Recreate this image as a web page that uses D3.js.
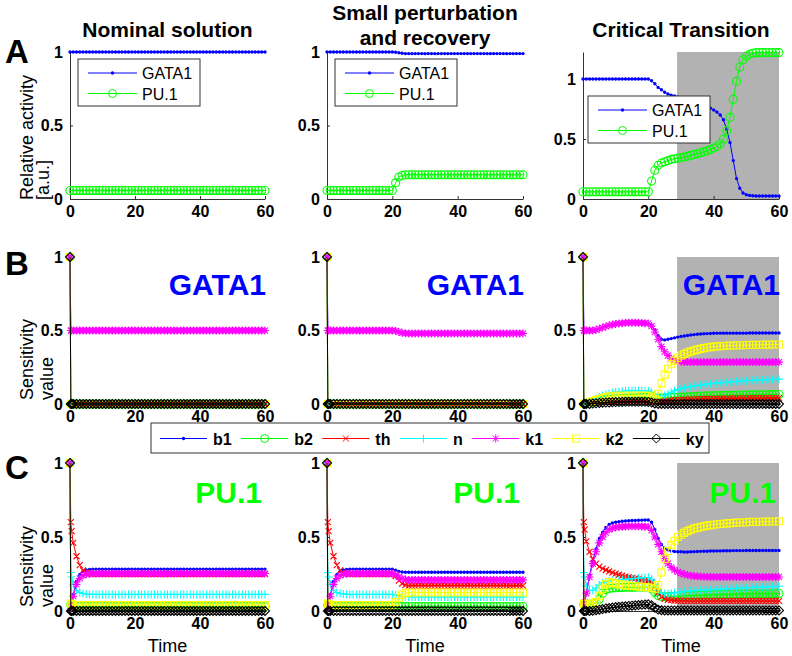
<!DOCTYPE html>
<html><head><meta charset="utf-8">
<script src="https://cdn.jsdelivr.net/npm/d3@7"></script>
<style>body{margin:0;background:#fff}svg text{font-family:"Liberation Sans",Arial,Helvetica,sans-serif}</style>
</head><body><svg id="c" width="792" height="656"></svg>
<script>
// ---------------- DATA ----------------
const panelTitles = [["Nominal solution"], ["Small perturbation", "and recovery"], ["Critical Transition"]];
const rowLetters = ["A", "B", "C"];
const xTicks = [0, 20, 40, 60];
const yTicks = [0, 0.5, 1];
const transitionStart = 28.8;
const activityNames = ["GATA1", "PU.1"];
const paramNames = ["b1", "b2", "th", "n", "k1", "k2", "ky"];

// time grid of row A (relative activity)
const timeA = [0,1,2,3,4,5,6,7,8,9,10,11,12,13,14,15,16,17,18,19,20,21,22,23,24,25,26,27,28,29,30,
  31,32,33,34,35,36,37,38,39,40,41,42,43,44,45,46,47,48,49,50,51,52,53,54,55,56,57,58,59,60];
// time grid of rows B and C (sensitivities)
const timeS = [0,0.25,0.5,1,2,3,4,5,6,7,8,9,10,11,12,13,14,15,16,17,18,19,20,21,22,23,24,25,26,27,28,29,30,
  31,32,33,34,35,36,37,38,39,40,41,42,43,44,45,46,47,48,49,50,51,52,53,54,55,56,57,58,59,60];

// Row A
const gataNominal = [1,1,1,1,1,1,1,1,1,1,1, 1,1,1,1,1,1,1,1,1,1, 1,1,1,1,1,1,1,1,1,1, 1,1,1,1,1,1,1,1,1,1, 1,1,1,1,1,1,1,1,1,1, 1,1,1,1,1,1,1,1,1,1];
const pu1Nominal = [0.058,0.058,0.058,0.058,0.058,0.058,0.058,0.058,0.058,0.058,0.058,
  0.058,0.058,0.058,0.058,0.058,0.058,0.058,0.058,0.058,0.058,
  0.058,0.058,0.058,0.058,0.058,0.058,0.058,0.058,0.058,0.058,
  0.058,0.058,0.058,0.058,0.058,0.058,0.058,0.058,0.058,0.058,
  0.058,0.058,0.058,0.058,0.058,0.058,0.058,0.058,0.058,0.058,
  0.058,0.058,0.058,0.058,0.058,0.058,0.058,0.058,0.058,0.058];
const gataSmall = [1,1,1,1,1,1,1,1,1,1,1, 1,1,1,1,1,1,1,1,1,1,
  0.998,0.995,0.991,0.989,0.989,0.989,0.989,0.989,0.989,0.989,
  0.989,0.989,0.989,0.989,0.989,0.989,0.989,0.989,0.989,0.989,
  0.989,0.989,0.989,0.989,0.989,0.989,0.989,0.989,0.989,0.989,
  0.989,0.989,0.989,0.989,0.989,0.989,0.989,0.989,0.989,0.989];
const pu1Small = [0.058,0.058,0.058,0.058,0.058,0.058,0.058,0.058,0.058,0.058,0.058,
  0.058,0.058,0.058,0.058,0.058,0.058,0.058,0.058,0.058,0.058,
  0.11,0.15,0.16,0.165,0.165,0.165,0.165,0.165,0.165,0.165,
  0.165,0.165,0.165,0.165,0.165,0.165,0.165,0.165,0.165,0.165,
  0.165,0.165,0.165,0.165,0.165,0.165,0.165,0.165,0.165,0.165,
  0.165,0.165,0.165,0.165,0.165,0.165,0.165,0.165,0.165,0.165];
const gataCritical = [1,1,1,1,1,1,1,1,1,1,1, 1,1,1,1,1,1,1,1,1,1,
  0.985,0.96,0.93,0.91,0.89,0.875,0.865,0.858,0.85,0.845,
  0.838,0.83,0.822,0.814,0.805,0.795,0.783,0.77,0.757,0.742,
  0.725,0.7,0.66,0.58,0.47,0.32,0.17,0.09,0.05,0.035,
  0.03,0.027,0.025,0.025,0.025,0.025,0.025,0.025,0.025,0.025];
const pu1Critical = [0.06,0.06,0.06,0.06,0.06,0.06,0.06,0.06,0.06,0.06,0.06,
  0.06,0.06,0.06,0.06,0.06,0.06,0.06,0.06,0.06,0.06,
  0.15,0.24,0.28,0.3,0.31,0.32,0.33,0.335,0.34,0.345,
  0.35,0.357,0.364,0.37,0.377,0.385,0.393,0.402,0.412,0.425,
  0.44,0.46,0.5,0.57,0.68,0.83,0.98,1.1,1.16,1.19,
  1.205,1.215,1.22,1.22,1.22,1.22,1.22,1.22,1.22,1.22];

// Row B: sensitivities of GATA1
const gataNomHalf = [1,0.5,0.5,
  0.5,0.5,0.5,0.5,0.5,0.5,0.5,0.5,0.5,0.5, 0.5,0.5,0.5,0.5,0.5,0.5,0.5,0.5,0.5,0.5,
  0.5,0.5,0.5,0.5,0.5,0.5,0.5,0.5,0.5,0.5, 0.5,0.5,0.5,0.5,0.5,0.5,0.5,0.5,0.5,0.5,
  0.5,0.5,0.5,0.5,0.5,0.5,0.5,0.5,0.5,0.5, 0.5,0.5,0.5,0.5,0.5,0.5,0.5,0.5,0.5,0.5];
const sensZero = [1,0,0,
  0,0,0,0,0,0,0,0,0,0, 0,0,0,0,0,0,0,0,0,0, 0,0,0,0,0,0,0,0,0,0,
  0,0,0,0,0,0,0,0,0,0, 0,0,0,0,0,0,0,0,0,0, 0,0,0,0,0,0,0,0,0,0];
const gataSmallHalf = [1,0.5,0.5,
  0.5,0.5,0.5,0.5,0.5,0.5,0.5,0.5,0.5,0.5, 0.5,0.5,0.5,0.5,0.5,0.5,0.5,0.5,0.5,0.5,
  0.497,0.49,0.484,0.481,0.48,0.48,0.48,0.48,0.48,0.48,
  0.48,0.48,0.48,0.48,0.48,0.48,0.48,0.48,0.48,0.48,
  0.48,0.48,0.48,0.48,0.48,0.48,0.48,0.48,0.48,0.48,
  0.48,0.48,0.48,0.48,0.48,0.48,0.48,0.48,0.48,0.48];
const gataCrit_b1 = [1,0.5,0.5,
  0.5,0.5,0.5,0.505,0.512,0.52,0.528,0.535,0.54,0.545,
  0.548,0.55,0.552,0.553,0.553,0.553,0.552,0.551,0.55,0.548,
  0.535,0.505,0.465,0.44,0.436,0.44,0.445,0.45,0.455,0.46,
  0.463,0.466,0.469,0.472,0.474,0.476,0.478,0.479,0.48,0.481,
  0.482,0.482,0.482,0.482,0.482,0.482,0.482,0.482,0.482,0.482,
  0.483,0.483,0.483,0.483,0.483,0.483,0.483,0.483,0.483,0.483];
const gataCrit_b2 = [1,0,0,
  0.003,0.007,0.011,0.015,0.019,0.023,0.027,0.03,0.033,0.035,
  0.037,0.039,0.04,0.041,0.042,0.043,0.044,0.044,0.045,0.045,
  0.043,0.04,0.04,0.041,0.042,0.043,0.044,0.045,0.046,0.047,
  0.048,0.049,0.05,0.051,0.052,0.053,0.054,0.055,0.055,0.056,
  0.057,0.057,0.058,0.058,0.059,0.059,0.06,0.06,0.061,0.061,
  0.062,0.062,0.062,0.063,0.063,0.063,0.064,0.064,0.064,0.065];
const gataCrit_th = [1,0,0,
  0.003,0.006,0.009,0.012,0.014,0.016,0.018,0.019,0.02,0.021,
  0.022,0.022,0.023,0.023,0.023,0.023,0.023,0.023,0.023,0.022,
  0.02,0.016,0.015,0.017,0.02,0.022,0.024,0.026,0.027,0.028,
  0.029,0.03,0.031,0.032,0.033,0.033,0.034,0.034,0.035,0.035,
  0.036,0.036,0.037,0.037,0.038,0.038,0.038,0.039,0.039,0.039,
  0.04,0.04,0.04,0.04,0.04,0.04,0.04,0.04,0.04,0.04];
const gataCrit_n = [1,0,0,
  0.008,0.018,0.028,0.038,0.048,0.057,0.065,0.072,0.077,0.081,
  0.084,0.086,0.088,0.089,0.09,0.09,0.09,0.09,0.09,0.089,
  0.08,0.065,0.057,0.056,0.06,0.068,0.08,0.09,0.098,0.105,
  0.11,0.115,0.119,0.123,0.126,0.129,0.132,0.135,0.138,0.14,
  0.142,0.144,0.146,0.148,0.15,0.152,0.154,0.155,0.157,0.158,
  0.16,0.161,0.162,0.163,0.164,0.165,0.166,0.167,0.168,0.169];
const gataCrit_k1 = [1,0.5,0.5,
  0.5,0.5,0.5,0.505,0.512,0.52,0.528,0.535,0.54,0.545,
  0.548,0.55,0.552,0.553,0.553,0.553,0.552,0.551,0.55,0.548,
  0.53,0.49,0.44,0.39,0.355,0.33,0.31,0.298,0.292,0.288,
  0.286,0.285,0.285,0.285,0.285,0.285,0.285,0.285,0.285,0.285,
  0.285,0.285,0.285,0.285,0.285,0.285,0.285,0.285,0.285,0.285,
  0.285,0.285,0.285,0.285,0.285,0.285,0.285,0.285,0.285,0.285];
const gataCrit_k2 = [1,0,0,
  0.005,0.012,0.02,0.027,0.034,0.04,0.045,0.05,0.053,0.056,
  0.057,0.058,0.058,0.058,0.058,0.058,0.058,0.057,0.057,0.055,
  0.045,0.035,0.07,0.14,0.2,0.24,0.27,0.295,0.315,0.33,
  0.34,0.35,0.357,0.364,0.37,0.375,0.38,0.384,0.387,0.39,
  0.392,0.394,0.395,0.396,0.397,0.398,0.399,0.4,0.4,0.401,
  0.401,0.402,0.402,0.403,0.403,0.404,0.404,0.405,0.405,0.405];
const gataCrit_ky = [1,0,0,
  0,0.001,0.003,0.005,0.007,0.009,0.01,0.011,0.012,0.013,
  0.014,0.014,0.015,0.015,0.015,0.015,0.015,0.015,0.015,0.014,
  0.01,0.004,0.001,0,0,0,0,0,0,0,
  0,0,0,0,0,0,0,0,0,0, 0,0,0,0,0,0,0,0,0,0, 0,0,0,0,0,0,0,0,0,0];

// Row C: sensitivities of PU.1
const puNom_b1 = [1,0.02,0.04,
  0.11,0.2,0.245,0.268,0.278,0.281,0.282,0.282,0.282,0.282,
  0.282,0.282,0.282,0.282,0.282,0.282,0.282,0.282,0.282,0.282,
  0.282,0.282,0.282,0.282,0.282,0.282,0.282,0.282,0.282,0.282,
  0.282,0.282,0.282,0.282,0.282,0.282,0.282,0.282,0.282,0.282,
  0.282,0.282,0.282,0.282,0.282,0.282,0.282,0.282,0.282,0.282,
  0.282,0.282,0.282,0.282,0.282,0.282,0.282,0.282,0.282,0.282];
const puNom_b2 = [1,0.04,0.035,
  0.033,0.03,0.03,0.03,0.03,0.03,0.03,0.03,0.03,0.03,
  0.03,0.03,0.03,0.03,0.03,0.03,0.03,0.03,0.03,0.03,
  0.03,0.03,0.03,0.03,0.03,0.03,0.03,0.03,0.03,0.03,
  0.03,0.03,0.03,0.03,0.03,0.03,0.03,0.03,0.03,0.03,
  0.03,0.03,0.03,0.03,0.03,0.03,0.03,0.03,0.03,0.03,
  0.03,0.03,0.03,0.03,0.03,0.03,0.03,0.03,0.03,0.03];
const puNom_th = [1,0.6,0.54,
  0.46,0.37,0.31,0.275,0.26,0.255,0.25,0.25,0.25,0.25,
  0.25,0.25,0.25,0.25,0.25,0.25,0.25,0.25,0.25,0.25,
  0.25,0.25,0.25,0.25,0.25,0.25,0.25,0.25,0.25,0.25,
  0.25,0.25,0.25,0.25,0.25,0.25,0.25,0.25,0.25,0.25,
  0.25,0.25,0.25,0.25,0.25,0.25,0.25,0.25,0.25,0.25,
  0.25,0.25,0.25,0.25,0.25,0.25,0.25,0.25,0.25,0.25];
const puNom_n = [1,0.26,0.23,
  0.18,0.14,0.125,0.118,0.115,0.113,0.112,0.112,0.112,0.112,
  0.112,0.112,0.112,0.112,0.112,0.112,0.112,0.112,0.112,0.112,
  0.112,0.112,0.112,0.112,0.112,0.112,0.112,0.112,0.112,0.112,
  0.112,0.112,0.112,0.112,0.112,0.112,0.112,0.112,0.112,0.112,
  0.112,0.112,0.112,0.112,0.112,0.112,0.112,0.112,0.112,0.112,
  0.112,0.112,0.112,0.112,0.112,0.112,0.112,0.112,0.112,0.112];
const puNom_k1 = [1,0.02,0.04,
  0.1,0.18,0.22,0.24,0.248,0.252,0.253,0.253,0.253,0.253,
  0.253,0.253,0.253,0.253,0.253,0.253,0.253,0.253,0.253,0.253,
  0.253,0.253,0.253,0.253,0.253,0.253,0.253,0.253,0.253,0.253,
  0.253,0.253,0.253,0.253,0.253,0.253,0.253,0.253,0.253,0.253,
  0.253,0.253,0.253,0.253,0.253,0.253,0.253,0.253,0.253,0.253,
  0.253,0.253,0.253,0.253,0.253,0.253,0.253,0.253,0.253,0.253];
const puNom_k2 = [1,0.05,0.045,
  0.042,0.04,0.04,0.04,0.04,0.04,0.04,0.04,0.04,0.04,
  0.04,0.04,0.04,0.04,0.04,0.04,0.04,0.04,0.04,0.04,
  0.04,0.04,0.04,0.04,0.04,0.04,0.04,0.04,0.04,0.04,
  0.04,0.04,0.04,0.04,0.04,0.04,0.04,0.04,0.04,0.04,
  0.04,0.04,0.04,0.04,0.04,0.04,0.04,0.04,0.04,0.04,
  0.04,0.04,0.04,0.04,0.04,0.04,0.04,0.04,0.04,0.04];

const puSmall_b1 = [1,0.02,0.04,
  0.11,0.2,0.245,0.268,0.278,0.281,0.282,0.282,0.282,0.282,
  0.282,0.282,0.282,0.282,0.282,0.282,0.282,0.282,0.282,0.282,
  0.275,0.268,0.264,0.262,0.262,0.262,0.262,0.262,0.262,0.262,
  0.262,0.262,0.262,0.262,0.262,0.262,0.262,0.262,0.262,0.262,
  0.262,0.262,0.262,0.262,0.262,0.262,0.262,0.262,0.262,0.262,
  0.262,0.262,0.262,0.262,0.262,0.262,0.262,0.262,0.262,0.262];
const puSmall_th = [1,0.6,0.54,
  0.46,0.37,0.31,0.275,0.26,0.255,0.25,0.25,0.25,0.25,
  0.25,0.25,0.25,0.25,0.25,0.25,0.25,0.25,0.25,0.25,
  0.235,0.205,0.185,0.175,0.172,0.172,0.172,0.172,0.172,0.172,
  0.172,0.172,0.172,0.172,0.172,0.172,0.172,0.172,0.172,0.172,
  0.172,0.172,0.172,0.172,0.172,0.172,0.172,0.172,0.172,0.172,
  0.172,0.172,0.172,0.172,0.172,0.172,0.172,0.172,0.172,0.172];
const puSmall_n = [1,0.26,0.23,
  0.18,0.14,0.125,0.118,0.115,0.113,0.112,0.112,0.112,0.112,
  0.112,0.112,0.112,0.112,0.112,0.112,0.112,0.112,0.112,0.112,
  0.108,0.102,0.098,0.096,0.095,0.095,0.095,0.095,0.095,0.095,
  0.095,0.095,0.095,0.095,0.095,0.095,0.095,0.095,0.095,0.095,
  0.095,0.095,0.095,0.095,0.095,0.095,0.095,0.095,0.095,0.095,
  0.095,0.095,0.095,0.095,0.095,0.095,0.095,0.095,0.095,0.095];
const puSmall_k1 = [1,0.02,0.04,
  0.1,0.18,0.22,0.24,0.248,0.252,0.253,0.253,0.253,0.253,
  0.253,0.253,0.253,0.253,0.253,0.253,0.253,0.253,0.253,0.253,
  0.245,0.23,0.218,0.212,0.21,0.21,0.21,0.21,0.21,0.21,
  0.21,0.21,0.21,0.21,0.21,0.21,0.21,0.21,0.21,0.21,
  0.21,0.21,0.21,0.21,0.21,0.21,0.21,0.21,0.21,0.21,
  0.21,0.21,0.21,0.21,0.21,0.21,0.21,0.21,0.21,0.21];
const puSmall_k2 = [1,0.05,0.045,
  0.042,0.04,0.04,0.04,0.04,0.04,0.04,0.04,0.04,0.04,
  0.04,0.04,0.04,0.04,0.04,0.04,0.04,0.04,0.04,0.04,
  0.06,0.09,0.11,0.12,0.125,0.125,0.125,0.125,0.125,0.125,
  0.125,0.125,0.125,0.125,0.125,0.125,0.125,0.125,0.125,0.125,
  0.125,0.125,0.125,0.125,0.125,0.125,0.125,0.125,0.125,0.125,
  0.125,0.125,0.125,0.125,0.125,0.125,0.125,0.125,0.125,0.125];

const puCrit_b1 = [1,0.03,0.06,
  0.12,0.24,0.34,0.42,0.49,0.53,0.565,0.585,0.595,0.6,
  0.603,0.606,0.608,0.61,0.611,0.612,0.613,0.614,0.615,0.615,
  0.6,0.55,0.49,0.45,0.425,0.412,0.405,0.402,0.4,0.4,
  0.399,0.399,0.4,0.401,0.402,0.403,0.404,0.404,0.405,0.405,
  0.406,0.406,0.407,0.407,0.407,0.408,0.408,0.408,0.408,0.409,
  0.409,0.409,0.409,0.409,0.409,0.409,0.409,0.409,0.409,0.409];
const puCrit_b2 = [1,0.045,0.045,
  0.045,0.045,0.048,0.055,0.08,0.12,0.145,0.152,0.155,0.157,
  0.158,0.159,0.16,0.16,0.161,0.161,0.162,0.162,0.162,0.161,
  0.15,0.125,0.105,0.098,0.097,0.098,0.099,0.1,0.101,0.102,
  0.103,0.104,0.105,0.106,0.107,0.108,0.108,0.109,0.11,0.11,
  0.111,0.111,0.112,0.112,0.113,0.113,0.114,0.114,0.115,0.115,
  0.115,0.116,0.116,0.116,0.117,0.117,0.117,0.117,0.118,0.118];
const puCrit_th = [1,0.6,0.55,
  0.47,0.4,0.35,0.32,0.3,0.287,0.277,0.268,0.26,0.252,
  0.245,0.239,0.233,0.228,0.224,0.22,0.216,0.212,0.209,0.206,
  0.195,0.165,0.125,0.095,0.082,0.076,0.073,0.071,0.07,0.069,
  0.068,0.068,0.068,0.068,0.068,0.068,0.068,0.068,0.068,0.068,
  0.068,0.068,0.068,0.068,0.068,0.068,0.068,0.068,0.068,0.068,
  0.068,0.068,0.068,0.068,0.068,0.068,0.068,0.068,0.068,0.068];
const puCrit_n = [1,0.26,0.23,
  0.17,0.14,0.14,0.155,0.175,0.19,0.198,0.203,0.206,0.208,
  0.21,0.212,0.214,0.216,0.218,0.22,0.222,0.224,0.226,0.226,
  0.215,0.18,0.14,0.122,0.117,0.117,0.12,0.123,0.126,0.129,
  0.132,0.134,0.136,0.138,0.14,0.141,0.142,0.143,0.144,0.145,
  0.146,0.148,0.149,0.15,0.151,0.152,0.154,0.155,0.156,0.157,
  0.158,0.159,0.16,0.161,0.162,0.163,0.164,0.165,0.166,0.167];
const puCrit_k1 = [1,0.03,0.06,
  0.12,0.23,0.32,0.4,0.46,0.5,0.53,0.55,0.56,0.565,
  0.568,0.57,0.571,0.572,0.572,0.572,0.572,0.571,0.57,0.568,
  0.545,0.5,0.45,0.4,0.355,0.32,0.295,0.278,0.265,0.255,
  0.248,0.243,0.239,0.236,0.234,0.233,0.232,0.231,0.23,0.23,
  0.23,0.23,0.23,0.23,0.23,0.23,0.23,0.23,0.23,0.23,
  0.23,0.23,0.23,0.23,0.23,0.23,0.23,0.23,0.23,0.23];
const puCrit_k2 = [1,0.05,0.05,
  0.05,0.05,0.05,0.06,0.1,0.15,0.18,0.195,0.19,0.185,
  0.18,0.177,0.174,0.171,0.169,0.167,0.165,0.163,0.162,0.16,
  0.155,0.15,0.175,0.26,0.35,0.405,0.445,0.475,0.5,0.515,
  0.528,0.54,0.549,0.557,0.563,0.568,0.573,0.577,0.58,0.583,
  0.586,0.588,0.59,0.592,0.594,0.595,0.597,0.598,0.599,0.6,
  0.601,0.602,0.602,0.603,0.603,0.604,0.604,0.605,0.605,0.606];
const puCrit_ky = [1,0,0,
  0,0,0.002,0.005,0.009,0.013,0.017,0.02,0.023,0.026,
  0.028,0.03,0.032,0.034,0.036,0.038,0.04,0.042,0.044,0.045,
  0.038,0.022,0.01,0.005,0.004,0.004,0.004,0.004,0.004,0.004,
  0.004,0.004,0.004,0.004,0.004,0.004,0.004,0.004,0.004,0.004,
  0.004,0.004,0.004,0.004,0.004,0.004,0.004,0.004,0.004,0.004,
  0.004,0.004,0.004,0.004,0.004,0.004,0.004,0.004,0.004,0.004];

// ---------------- STYLE / LAYOUT ----------------
const styles = {
  GATA1: {color: "#0000ff", marker: "."}, "PU.1": {color: "#00ff00", marker: "o"},
  b1: {color: "#0000ff", marker: "."}, b2: {color: "#00ff00", marker: "o"},
  th: {color: "#ff0000", marker: "x"}, n: {color: "#00ffff", marker: "+"},
  k1: {color: "#ff00ff", marker: "*"}, k2: {color: "#ffff00", marker: "s"},
  ky: {color: "#000000", marker: "d"}
};
const colX = [[70, 265], [327, 523], [583, 779]];
const rowY = [[199, 52], [404, 257], [611, 463]];
const axisColor = "#333";

const rowAData = [[gataNominal, pu1Nominal], [gataSmall, pu1Small], [gataCritical, pu1Critical]];
const rowBData = [
  [gataNomHalf, sensZero, sensZero, sensZero, gataNomHalf, sensZero, sensZero],
  [gataSmallHalf, sensZero, sensZero, sensZero, gataSmallHalf, sensZero, sensZero],
  [gataCrit_b1, gataCrit_b2, gataCrit_th, gataCrit_n, gataCrit_k1, gataCrit_k2, gataCrit_ky]];
const rowCData = [
  [puNom_b1, puNom_b2, puNom_th, puNom_n, puNom_k1, puNom_k2, sensZero],
  [puSmall_b1, puNom_b2, puSmall_th, puSmall_n, puSmall_k1, puSmall_k2, sensZero],
  [puCrit_b1, puCrit_b2, puCrit_th, puCrit_n, puCrit_k1, puCrit_k2, puCrit_ky]];

// sanity check of array lengths
rowAData.flat().forEach((a, i) => { if (a.length !== timeA.length) throw new Error("rowA len " + i + " " + a.length); });
rowBData.flat().concat(rowCData.flat()).forEach((a, i) => { if (a.length !== timeS.length) throw new Error("rowBC len " + i + " " + a.length); });

const svg = d3.select("#c");

function markerPath(m, cx, cy) {
  let r, s;
  switch (m) {
    case ".": r = 1.7; return `M${cx - r},${cy}a${r},${r} 0 1,0 ${2 * r},0a${r},${r} 0 1,0 ${-2 * r},0`;
    case "o": r = 4; return `M${cx - r},${cy}a${r},${r} 0 1,0 ${2 * r},0a${r},${r} 0 1,0 ${-2 * r},0`;
    case "x": s = 3; return `M${cx - s},${cy - s}L${cx + s},${cy + s}M${cx - s},${cy + s}L${cx + s},${cy - s}`;
    case "+": s = 4; return `M${cx - s},${cy}L${cx + s},${cy}M${cx},${cy - s}L${cx},${cy + s}`;
    case "*": s = 4; r = 3;
      return `M${cx - s},${cy}L${cx + s},${cy}M${cx},${cy - s}L${cx},${cy + s}M${cx - r},${cy - r}L${cx + r},${cy + r}M${cx - r},${cy + r}L${cx + r},${cy - r}`;
    case "s": s = 3.5; return `M${cx - s},${cy - s}h${2 * s}v${2 * s}h${-2 * s}Z`;
    case "d": s = 4.5; return `M${cx},${cy - s}L${cx + s},${cy}L${cx},${cy + s}L${cx - s},${cy}Z`;
  }
}

function drawSeries(g, x, y, times, values, st) {
  const line = d3.line().x((d, i) => x(times[i])).y(d => y(d));
  g.append("path").attr("d", line(values)).attr("fill", "none").attr("stroke", st.color).attr("stroke-width", 1);
  const mp = values.map((v, i) => markerPath(st.marker, x(times[i]), y(v))).join("");
  const p = g.append("path").attr("d", mp);
  if (st.marker === ".") p.attr("fill", st.color).attr("stroke", "none");
  else p.attr("fill", "none").attr("stroke", st.color).attr("stroke-width", 1.1);
}

function drawAxes(g, x, y, yt) {
  const ax = g.append("g").attr("transform", `translate(0,${y(0)})`)
    .call(d3.axisBottom(x).tickValues(xTicks).tickSize(-3).tickSizeOuter(0).tickPadding(6.5).tickFormat(d3.format("")));
  const ay = g.append("g").attr("transform", `translate(${x(0)},0)`)
    .call(d3.axisLeft(y).tickValues(yt).tickSize(-3).tickSizeOuter(0).tickPadding(7).tickFormat(d3.format("")));
  [ax, ay].forEach(a => {
    a.select(".domain").attr("stroke", axisColor).attr("stroke-width", 1);
    a.selectAll(".tick line").attr("stroke", axisColor);
    a.selectAll(".tick text").attr("fill", "#000").style("font-size", "16px").style("font-weight", "bold");
  });
}

function drawLegendA(g, left, top) {
  const w = 122, h = 47;
  g.append("rect").attr("x", left).attr("y", top).attr("width", w).attr("height", h)
    .attr("fill", "#fff").attr("stroke", axisColor).attr("stroke-width", 1);
  activityNames.forEach((name, i) => {
    const cy = top + 14 + i * 20.5, st = styles[name];
    g.append("line").attr("x1", left + 10).attr("x2", left + 59).attr("y1", cy).attr("y2", cy)
      .attr("stroke", st.color).attr("stroke-width", 1);
    const p = g.append("path").attr("d", markerPath(st.marker, left + 34.5, cy));
    if (st.marker === ".") p.attr("fill", st.color); else p.attr("fill", "none").attr("stroke", st.color);
    g.append("text").attr("x", left + 64).attr("y", cy + 6).text(name).style("font-size", "16px");
  });
}

// ---------------- ROW A ----------------
rowAData.forEach((series, c) => {
  const g = svg.append("g");
  const x = d3.scaleLinear().domain([0, 60]).range(colX[c]);
  const y = d3.scaleLinear().domain([0, c === 2 ? 1.225 : 1]).range(rowY[0]);
  if (c === 2) g.append("rect").attr("x", x(transitionStart)).attr("y", y.range()[1])
    .attr("width", x(60) - x(transitionStart)).attr("height", y(0) - y.range()[1]).attr("fill", "#b2b2b2");
  drawAxes(g, x, y, yTicks);
  series.forEach((vals, k) => drawSeries(g, x, y, timeA, vals, styles[activityNames[k]]));
  // titles
  const t = panelTitles[c], cx = (colX[c][0] + colX[c][1]) / 2;
  const baselines = t.length === 2 ? [20, 45] : [37];
  t.forEach((line, i) => g.append("text").attr("x", cx).attr("y", baselines[i]).attr("text-anchor", "middle")
    .text(line).style("font-size", "21px").style("font-weight", "bold"));
  if (c === 0) drawLegendA(g, 78, 59);
  if (c === 1) drawLegendA(g, 335, 59);
  if (c === 2) drawLegendA(g, 588, 96);
});

// ---------------- ROWS B, C ----------------
[rowBData, rowCData].forEach((rowData, r) => {
  const row = r + 1;
  rowData.forEach((series, c) => {
    const g = svg.append("g");
    const x = d3.scaleLinear().domain([0, 60]).range(colX[c]);
    const y = d3.scaleLinear().domain([0, 1]).range(rowY[row]);
    if (c === 2) g.append("rect").attr("x", x(transitionStart)).attr("y", y(1))
      .attr("width", x(60) - x(transitionStart)).attr("height", y(0) - y(1)).attr("fill", "#b2b2b2");
    drawAxes(g, x, y, yTicks);
    series.forEach((vals, k) => drawSeries(g, x, y, timeS, vals, styles[paramNames[k]]));
    const name = activityNames[r];
    g.append("text").attr("x", x(60) + (r === 0 ? 1 : -3)).attr("y", r === 0 ? 295 : 503)
      .attr("text-anchor", "end").text(name)
      .style("font-size", "30px").style("font-weight", "bold").attr("fill", r === 0 ? "#0000ff" : "#00ff00");
  });
});

// ---------------- LABELS ----------------
const letterBase = [63, 275, 479];
rowLetters.forEach((L, i) => svg.append("text").attr("x", 5).attr("y", letterBase[i]).text(L)
  .style("font-size", "33px").style("font-weight", "bold"));

function yLabel(lines, bottom, xs) {
  lines.forEach((t, i) => svg.append("text").attr("transform", `translate(${xs[i]},${bottom}) rotate(-90)`)
    .attr("text-anchor", "start").text(t).style("font-size", "18px"));
}
yLabel(["Relative activity", "[a.u.]"], 200, [33, 49]);
yLabel(["Sensitivity", "value"], 400, [33, 53]);
yLabel(["Sensitivity", "value"], 607, [33, 53]);

colX.forEach(cx => svg.append("text").attr("x", (cx[0] + cx[1]) / 2).attr("y", 652).attr("text-anchor", "middle")
  .text("Time").style("font-size", "18px"));

// ---------------- LEGEND B/C ----------------
{
  const g = svg.append("g");
  g.append("rect").attr("x", 151).attr("y", 423).attr("width", 558).attr("height", 30)
    .attr("fill", "#fff").attr("stroke", axisColor).attr("stroke-width", 1);
  let xs = 160; const cy = 438.5;
  paramNames.forEach(name => {
    const st = styles[name];
    g.append("line").attr("x1", xs).attr("x2", xs + 47).attr("y1", cy).attr("y2", cy).attr("stroke", st.color).attr("stroke-width", 1);
    const p = g.append("path").attr("d", markerPath(st.marker, xs + 23.5, cy));
    if (st.marker === ".") p.attr("fill", st.color); else p.attr("fill", "none").attr("stroke", st.color);
    const t = g.append("text").attr("x", xs + 53).attr("y", cy + 6).text(name)
      .style("font-size", "16px").style("font-weight", "bold");
    xs = xs + 53 + t.node().getComputedTextLength() + 9.5;
  });
}
</script></body></html>
